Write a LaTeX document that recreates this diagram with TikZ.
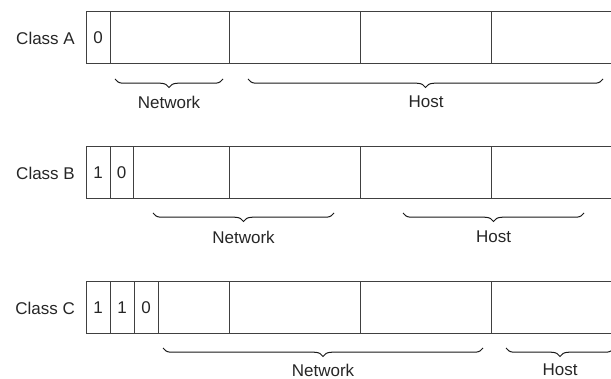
\documentclass[tikz,border=0pt]{standalone}
\usepackage{fontspec}
\setmainfont{Liberation Sans}
\usepackage{tikz}
\usetikzlibrary{decorations.pathreplacing}

\begin{document}
\begin{tikzpicture}[x=1pt, y=-1pt,
    lbl/.style={font=\fontsize{17}{20}\selectfont, text=black!85, inner sep=0pt},
    frame/.style={draw=black!75, line width=1pt},
    brc/.style={decorate, decoration={brace, mirror, amplitude=8.5pt}, draw=black!90, line width=1pt}]
        \useasboundingbox (0, 0) rectangle (611, 379);
        \clip (0, 0) rectangle (611, 379);
        % class A
        \draw[frame] (86, 12) rectangle (640, 64);
        \foreach \x in {110, 229, 360, 491} \draw[frame] (\x, 12) -- (\x, 64);
        \node[lbl, anchor=east] (classA) at (75, 38) {Class A};
        \node[lbl] (bitA1) at (98, 38) {0};
        \draw[brc] (115, 79) -- (223, 79);
        \draw[brc] (248, 79) -- (603, 79);
        \node[lbl] (netA) at (169, 102) {Network};
        \node[lbl] (hostA) at (426, 102) {Host};
        % class B
        \draw[frame] (86, 147) rectangle (640, 199);
        \foreach \x in {110, 133, 229, 360, 491} \draw[frame] (\x, 147) -- (\x, 199);
        \node[lbl, anchor=east] (classB) at (75, 173) {Class B};
        \node[lbl] (bitB1) at (98, 173) {1};
        \node[lbl] (bitB2) at (121.5, 173) {0};
        \draw[brc] (153, 213) -- (334, 213);
        \draw[brc] (403, 213) -- (584, 213);
        \node[lbl] (netB) at (243.5, 237) {Network};
        \node[lbl] (hostB) at (493.5, 237) {Host};
        % class C
        \draw[frame] (86, 282) rectangle (640, 334);
        \foreach \x in {110, 134, 158, 229, 360, 491} \draw[frame] (\x, 282) -- (\x, 334);
        \node[lbl, anchor=east] (classC) at (75, 308) {Class C};
        \node[lbl] (bitC1) at (98, 308) {1};
        \node[lbl] (bitC2) at (122, 308) {1};
        \node[lbl] (bitC3) at (146, 308) {0};
        \draw[brc] (163, 348) -- (483, 348);
        \draw[brc] (506, 348) -- (614, 348);
        \node[lbl] (netC) at (323, 370) {Network};
        \node[lbl] (hostC) at (560, 370) {Host};
      \end{tikzpicture}
\end{document}
